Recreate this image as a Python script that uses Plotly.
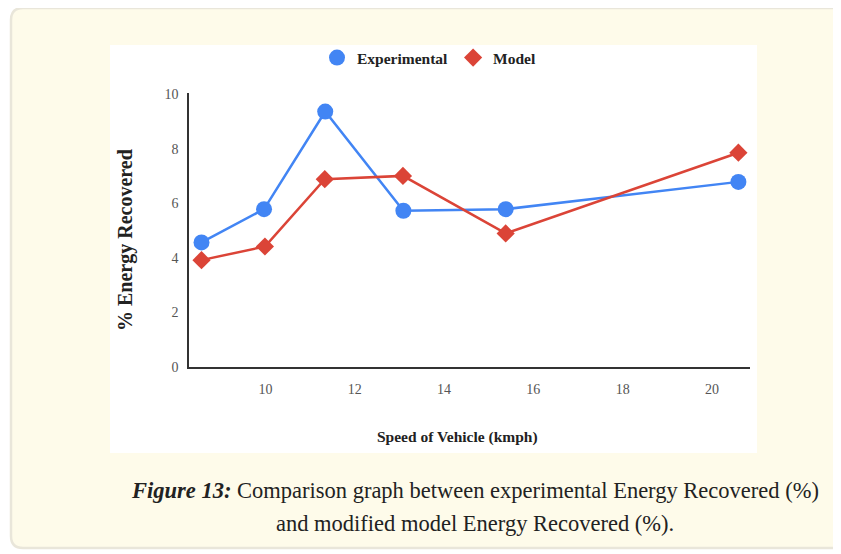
import plotly.graph_objects as go

speed_exp = [8.57, 9.97, 11.34, 13.09, 15.38, 20.59]
energy_exp = [4.57, 5.79, 9.37, 5.73, 5.79, 6.79]
speed_model = [8.57, 9.99, 11.33, 13.08, 15.38, 20.59]
energy_model = [3.92, 4.42, 6.89, 7.01, 4.90, 7.86]
x_ticks = [10, 12, 14, 16, 18, 20]
y_ticks = [0, 2, 4, 6, 8, 10]

PAGE_W, PAGE_H = 841, 554
OFF = 8  # default body margin of the html page
W, H = PAGE_W - OFF, PAGE_H - OFF
L, R, T, B = 189, 750, 93, 367  # plot area edges in page pixels

def px(x):
    return (x - L) / (R - L)

def py(y):
    return (B - y) / (B - T)

BLUE = "#4285F4"
RED = "#DB4437"
SERIF = "Liberation Serif, Times New Roman, serif"

fig = go.Figure()
fig.add_trace(go.Scatter(x=speed_exp, y=energy_exp, mode="lines+markers",
                         line=dict(color=BLUE, width=2.5),
                         marker=dict(symbol="circle", size=16, color=BLUE),
                         showlegend=False, cliponaxis=False))
fig.add_trace(go.Scatter(x=speed_model, y=energy_model, mode="lines+markers",
                         line=dict(color=RED, width=2.5),
                         marker=dict(symbol="diamond", size=14, color=RED),
                         showlegend=False, cliponaxis=False))
fig.add_trace(go.Scatter(x=[None], y=[None], mode="markers", name="<b>Experimental</b>",
                         marker=dict(symbol="circle", size=16, color=BLUE)))
fig.add_trace(go.Scatter(x=[None], y=[None], mode="markers", name="<b>Model</b>",
                         marker=dict(symbol="diamond", size=14, color=RED)))

x0, y0, x1, y1, r = 11, 8, 870, 548, 12
X0, X1 = px(x0), px(x1)
Y0, Y1 = py(y0), py(y1)
rx = r / (R - L)
ry = r / (B - T)
card_path = (f"M {X0+rx},{Y0} L {X1-rx},{Y0} Q {X1},{Y0} {X1},{Y0-ry} "
             f"L {X1},{Y1+ry} Q {X1},{Y1} {X1-rx},{Y1} L {X0+rx},{Y1} "
             f"Q {X0},{Y1} {X0},{Y1+ry} L {X0},{Y0-ry} Q {X0},{Y0} {X0+rx},{Y0} Z")

shapes = [
    dict(type="path", xref="paper", yref="paper", path=card_path,
         fillcolor="#FEFBEA", line=dict(color="#E9E6DA", width=2.5), layer="below"),
    dict(type="rect", xref="paper", yref="paper", x0=px(110), x1=px(757),
         y0=py(45), y1=py(453), fillcolor="white", line=dict(width=0), layer="below"),
]

annotations = [
    dict(text="<b>% Energy Recovered</b>", xref="paper", yref="paper",
         x=px(125), y=py(240), textangle=-90, showarrow=False,
         font=dict(family=SERIF, size=20, color="#222"), xanchor="center", yanchor="middle"),
    dict(text="<b>Speed of Vehicle (kmph)</b>", xref="paper", yref="paper",
         x=px(457), y=py(437), showarrow=False,
         font=dict(family=SERIF, size=15.5, color="#222"), xanchor="center", yanchor="middle"),
    dict(text="<b><i>Figure 13:</i></b> Comparison graph between experimental Energy Recovered (%)",
         xref="paper", yref="paper", x=px(475), y=py(490), showarrow=False,
         font=dict(family=SERIF, size=22.5, color="#222"), xanchor="center", yanchor="middle"),
    dict(text="and modified model Energy Recovered (%).",
         xref="paper", yref="paper", x=px(475), y=py(523), showarrow=False,
         font=dict(family=SERIF, size=22.5, color="#222"), xanchor="center", yanchor="middle"),
]

fig.update_layout(
    width=W, height=H,
    margin=dict(l=L - OFF, r=PAGE_W - R, t=T - OFF, b=PAGE_H - B, pad=0),
    paper_bgcolor="white",
    plot_bgcolor="rgba(0,0,0,0)",
    shapes=shapes,
    annotations=annotations,
    legend=dict(orientation="h", x=px(429), y=py(58), xanchor="center", yanchor="middle",
                font=dict(family=SERIF, size=15.5, color="#222"),
                bgcolor="rgba(0,0,0,0)", itemwidth=30),
    xaxis=dict(range=[8.29, 20.85], tickvals=x_ticks, showgrid=False, zeroline=False,
               showline=True, linecolor="#333", linewidth=1.5, ticks="",
               ticklabelstandoff=8,
               tickfont=dict(family=SERIF, size=14, color="#555")),
    yaxis=dict(range=[0, 10.05], tickvals=y_ticks, showgrid=False, zeroline=False,
               showline=True, linecolor="#333", linewidth=1.5, ticks="",
               ticklabelstandoff=6,
               tickfont=dict(family=SERIF, size=14, color="#555")),
)

fig.write_html("out.html")
